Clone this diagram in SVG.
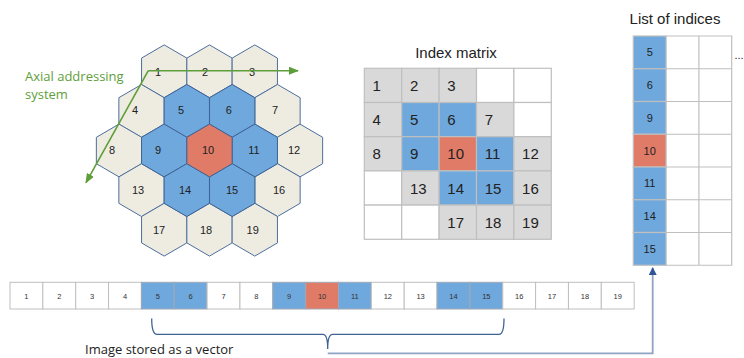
<svg xmlns="http://www.w3.org/2000/svg" xmlns:xlink="http://www.w3.org/1999/xlink" width="744" height="358" viewBox="0 0 744 358">
<style>
.hb{fill:#EEECE1;stroke:#4D6E9C;stroke-width:1}
.hu{fill:#6FA8DC;stroke:#3F6396;stroke-width:1}
.hr{fill:#E07B67;stroke:#3F6396;stroke-width:1}
.hl{font-family:"Liberation Sans",Arial,sans-serif;font-size:11px;fill:#222;text-anchor:middle;dominant-baseline:central}
.cg{fill:#D9D9D9;stroke:#BFBFBF;stroke-width:1.2}
.cw{fill:#FFFFFF;stroke:#BFBFBF;stroke-width:1.2}
.cu{fill:#6FA8DC;stroke:#BFBFBF;stroke-width:1.2}
.cr{fill:#E07B67;stroke:#BFBFBF;stroke-width:1.2}
.mt{font-family:"Liberation Sans",Arial,sans-serif;font-size:15px;fill:#222}
.title{font-family:"Liberation Sans",Arial,sans-serif;font-size:15px;fill:#222;text-anchor:middle}
.lt{font-family:"Liberation Sans",Arial,sans-serif;font-size:11px;fill:#222;text-anchor:middle;dominant-baseline:central}
.vw{fill:#FFFFFF;stroke:#BFBFBF;stroke-width:1}
.vu{fill:#6FA8DC;stroke:#A0A8B4;stroke-width:1}
.vr{fill:#E07B67;stroke:#A0A8B4;stroke-width:1}
.vt{font-family:"Liberation Sans",Arial,sans-serif;font-size:7.5px;fill:#333;text-anchor:middle;dominant-baseline:central}
.green{font-family:"Open Sans","Liberation Sans",sans-serif;font-size:13px;fill:#5E9E3A}
.cap{font-family:"Open Sans","Liberation Sans",sans-serif;font-size:13px;fill:#222}
</style>
<defs>
<path id="hx" d="M0,-26.4 L22.65,-13.2 L22.65,13.2 L0,26.4 L-22.65,13.2 L-22.65,-13.2 Z"/>
<marker id="ga" markerWidth="10" markerHeight="8" refX="9" refY="4" orient="auto" markerUnits="userSpaceOnUse">
<path d="M0,0 L10,4 L0,8 Z" fill="#5E9E3A"/>
</marker>
<marker id="ba" markerWidth="8" markerHeight="8" refX="7" refY="4" orient="auto" markerUnits="userSpaceOnUse">
<path d="M0,0 L8,4 L0,8 Z" fill="#2F5597"/>
</marker>
</defs>
<rect width="744" height="358" fill="#FFFFFF"/>

<!-- Hex grid -->
<g id="hexgrid">
<g id="hex1"><use xlink:href="#hx" x="164.2" y="71.3" class="hb"/><text class="hl" x="158" y="71.5">1</text></g>
<g id="hex2"><use xlink:href="#hx" x="209.5" y="71.3" class="hb"/><text class="hl" x="205" y="71.5">2</text></g>
<g id="hex3"><use xlink:href="#hx" x="254.8" y="71.3" class="hb"/><text class="hl" x="252" y="71.5">3</text></g>
<g id="hex4"><use xlink:href="#hx" x="141.5" y="110.9" class="hb"/><text class="hl" x="135" y="110">4</text></g>
<g id="hex7"><use xlink:href="#hx" x="277.5" y="110.9" class="hb"/><text class="hl" x="275" y="110">7</text></g>
<g id="hex8"><use xlink:href="#hx" x="119" y="150.5" class="hb"/><text class="hl" x="112" y="150">8</text></g>
<g id="hex12"><use xlink:href="#hx" x="300" y="150.5" class="hb"/><text class="hl" x="294" y="150">12</text></g>
<g id="hex13"><use xlink:href="#hx" x="141.5" y="190.1" class="hb"/><text class="hl" x="138" y="190">13</text></g>
<g id="hex16"><use xlink:href="#hx" x="277.5" y="190.1" class="hb"/><text class="hl" x="279" y="190">16</text></g>
<g id="hex17"><use xlink:href="#hx" x="164.2" y="229.7" class="hb"/><text class="hl" x="159" y="230">17</text></g>
<g id="hex18"><use xlink:href="#hx" x="209.5" y="229.7" class="hb"/><text class="hl" x="206" y="230">18</text></g>
<g id="hex19"><use xlink:href="#hx" x="254.8" y="229.7" class="hb"/><text class="hl" x="252.7" y="230">19</text></g>
<g id="hex5"><use xlink:href="#hx" x="186.8" y="110.9" class="hu"/><text class="hl" x="181" y="110">5</text></g>
<g id="hex6"><use xlink:href="#hx" x="232.2" y="110.9" class="hu"/><text class="hl" x="228.7" y="110">6</text></g>
<g id="hex9"><use xlink:href="#hx" x="164.2" y="150.5" class="hu"/><text class="hl" x="158" y="150">9</text></g>
<g id="hex11"><use xlink:href="#hx" x="254.8" y="150.5" class="hu"/><text class="hl" x="254" y="150">11</text></g>
<g id="hex14"><use xlink:href="#hx" x="186.8" y="190.1" class="hu"/><text class="hl" x="185" y="190">14</text></g>
<g id="hex15"><use xlink:href="#hx" x="232.2" y="190.1" class="hu"/><text class="hl" x="232" y="190">15</text></g>
<g id="hex10"><use xlink:href="#hx" x="209.5" y="150.5" class="hr"/><text class="hl" x="208" y="150">10</text></g>
</g>

<!-- Axial addressing -->
<g id="axial">
<text class="green" x="25" y="81">Axial addressing</text>
<text class="green" x="25" y="99">system</text>
<path d="M148.3,70.7 L298,70.7" fill="none" stroke="#5E9E3A" stroke-width="1.6" marker-end="url(#ga)"/>
<path d="M148.3,70.7 L86,182.7" fill="none" stroke="#5E9E3A" stroke-width="1.6" marker-end="url(#ga)"/>
</g>

<!-- Index matrix -->
<g id="indexmatrix">
<text class="title" x="456" y="58">Index matrix</text>
<rect class="cg" x="364.3" y="68.3" width="37.4" height="34.2"/>
<rect class="cg" x="401.7" y="68.3" width="37.4" height="34.2"/>
<rect class="cg" x="439.1" y="68.3" width="37.4" height="34.2"/>
<rect class="cw" x="476.5" y="68.3" width="37.4" height="34.2"/>
<rect class="cw" x="513.9" y="68.3" width="37.4" height="34.2"/>
<rect class="cg" x="364.3" y="102.5" width="37.4" height="34.2"/>
<rect class="cu" x="401.7" y="102.5" width="37.4" height="34.2"/>
<rect class="cu" x="439.1" y="102.5" width="37.4" height="34.2"/>
<rect class="cg" x="476.5" y="102.5" width="37.4" height="34.2"/>
<rect class="cw" x="513.9" y="102.5" width="37.4" height="34.2"/>
<rect class="cg" x="364.3" y="136.7" width="37.4" height="34.2"/>
<rect class="cu" x="401.7" y="136.7" width="37.4" height="34.2"/>
<rect class="cr" x="439.1" y="136.7" width="37.4" height="34.2"/>
<rect class="cu" x="476.5" y="136.7" width="37.4" height="34.2"/>
<rect class="cg" x="513.9" y="136.7" width="37.4" height="34.2"/>
<rect class="cw" x="364.3" y="170.9" width="37.4" height="34.2"/>
<rect class="cg" x="401.7" y="170.9" width="37.4" height="34.2"/>
<rect class="cu" x="439.1" y="170.9" width="37.4" height="34.2"/>
<rect class="cu" x="476.5" y="170.9" width="37.4" height="34.2"/>
<rect class="cg" x="513.9" y="170.9" width="37.4" height="34.2"/>
<rect class="cw" x="364.3" y="205.1" width="37.4" height="34.2"/>
<rect class="cw" x="401.7" y="205.1" width="37.4" height="34.2"/>
<rect class="cg" x="439.1" y="205.1" width="37.4" height="34.2"/>
<rect class="cg" x="476.5" y="205.1" width="37.4" height="34.2"/>
<rect class="cg" x="513.9" y="205.1" width="37.4" height="34.2"/>
<text class="mt" x="372.5" y="91">1</text>
<text class="mt" x="409.9" y="91">2</text>
<text class="mt" x="447.3" y="91">3</text>
<text class="mt" x="372.5" y="125.2">4</text>
<text class="mt" x="409.9" y="125.2">5</text>
<text class="mt" x="447.3" y="125.2">6</text>
<text class="mt" x="484.7" y="125.2">7</text>
<text class="mt" x="372.5" y="159.4">8</text>
<text class="mt" x="409.9" y="159.4">9</text>
<text class="mt" x="447.3" y="159.4">10</text>
<text class="mt" x="484.7" y="159.4">11</text>
<text class="mt" x="522.1" y="159.4">12</text>
<text class="mt" x="409.9" y="193.6">13</text>
<text class="mt" x="447.3" y="193.6">14</text>
<text class="mt" x="484.7" y="193.6">15</text>
<text class="mt" x="522.1" y="193.6">16</text>
<text class="mt" x="447.3" y="227.8">17</text>
<text class="mt" x="484.7" y="227.8">18</text>
<text class="mt" x="522.1" y="227.8">19</text>
</g>

<!-- List of indices -->
<g id="listofindices">
<text class="title" x="675" y="24">List of indices</text>
<rect class="cu" x="633.3" y="36" width="32.8" height="32.75"/>
<rect class="cu" x="633.3" y="68.75" width="32.8" height="32.75"/>
<rect class="cu" x="633.3" y="101.5" width="32.8" height="32.75"/>
<rect class="cr" x="633.3" y="134.25" width="32.8" height="32.75"/>
<rect class="cu" x="633.3" y="167" width="32.8" height="32.75"/>
<rect class="cu" x="633.3" y="199.75" width="32.8" height="32.75"/>
<rect class="cu" x="633.3" y="232.5" width="32.8" height="32.75"/>
<path d="M666.1,36 H731.7 V265.25 H666.1 M698.9,36 V265.25 M666.1,68.75 H731.7 M666.1,101.5 H731.7 M666.1,134.25 H731.7 M666.1,167 H731.7 M666.1,199.75 H731.7 M666.1,232.5 H731.7" fill="none" stroke="#BFBFBF" stroke-width="1.2"/>
<text class="lt" x="649.7" y="52.4">5</text>
<text class="lt" x="649.7" y="85.1">6</text>
<text class="lt" x="649.7" y="117.9">9</text>
<text class="lt" x="649.7" y="150.6">10</text>
<text class="lt" x="649.7" y="183.4">11</text>
<text class="lt" x="649.7" y="216.1">14</text>
<text class="lt" x="649.7" y="248.9">15</text>
<text class="lt" x="739" y="55">...</text>
</g>

<!-- Vector -->
<g id="vector">
<rect class="vw" x="10" y="282.3" width="32.85" height="26.7"/>
<rect class="vw" x="42.85" y="282.3" width="32.85" height="26.7"/>
<rect class="vw" x="75.7" y="282.3" width="32.85" height="26.7"/>
<rect class="vw" x="108.55" y="282.3" width="32.85" height="26.7"/>
<rect class="vu" x="141.4" y="282.3" width="32.85" height="26.7"/>
<rect class="vu" x="174.25" y="282.3" width="32.85" height="26.7"/>
<rect class="vw" x="207.1" y="282.3" width="32.85" height="26.7"/>
<rect class="vw" x="239.95" y="282.3" width="32.85" height="26.7"/>
<rect class="vu" x="272.8" y="282.3" width="32.85" height="26.7"/>
<rect class="vr" x="305.65" y="282.3" width="32.85" height="26.7"/>
<rect class="vu" x="338.5" y="282.3" width="32.85" height="26.7"/>
<rect class="vw" x="371.35" y="282.3" width="32.85" height="26.7"/>
<rect class="vw" x="404.2" y="282.3" width="32.85" height="26.7"/>
<rect class="vu" x="437.05" y="282.3" width="32.85" height="26.7"/>
<rect class="vu" x="469.9" y="282.3" width="32.85" height="26.7"/>
<rect class="vw" x="502.75" y="282.3" width="32.85" height="26.7"/>
<rect class="vw" x="535.6" y="282.3" width="32.85" height="26.7"/>
<rect class="vw" x="568.45" y="282.3" width="32.85" height="26.7"/>
<rect class="vw" x="601.3" y="282.3" width="32.85" height="26.7"/>
<text class="vt" x="26.4" y="296">1</text>
<text class="vt" x="59.3" y="296">2</text>
<text class="vt" x="92.1" y="296">3</text>
<text class="vt" x="125" y="296">4</text>
<text class="vt" x="157.8" y="296">5</text>
<text class="vt" x="190.7" y="296">6</text>
<text class="vt" x="223.5" y="296">7</text>
<text class="vt" x="256.4" y="296">8</text>
<text class="vt" x="289.2" y="296">9</text>
<text class="vt" x="322.1" y="296">10</text>
<text class="vt" x="354.9" y="296">11</text>
<text class="vt" x="387.8" y="296">12</text>
<text class="vt" x="420.6" y="296">13</text>
<text class="vt" x="453.5" y="296">14</text>
<text class="vt" x="486.3" y="296">15</text>
<text class="vt" x="519.2" y="296">16</text>
<text class="vt" x="552" y="296">17</text>
<text class="vt" x="584.9" y="296">18</text>
<text class="vt" x="617.7" y="296">19</text>
</g>

<text class="cap" x="85" y="353.5">Image stored as a vector</text>

<!-- Connectors -->
<g id="connectors">
<path d="M151.7,318.5 Q151.7,334.3 157,334.3 L323,334.3 Q327.7,334.3 327.7,349 Q327.7,334.3 332.5,334.3 L499,334.3 Q504,334.3 504,318.5" fill="none" stroke="#3F6396" stroke-width="1.3"/>
<path d="M327.7,353.3 L652.7,353.3 L652.7,268" fill="none" stroke="#8FA3C4" stroke-width="1.8" marker-end="url(#ba)"/>
</g>
</svg>
